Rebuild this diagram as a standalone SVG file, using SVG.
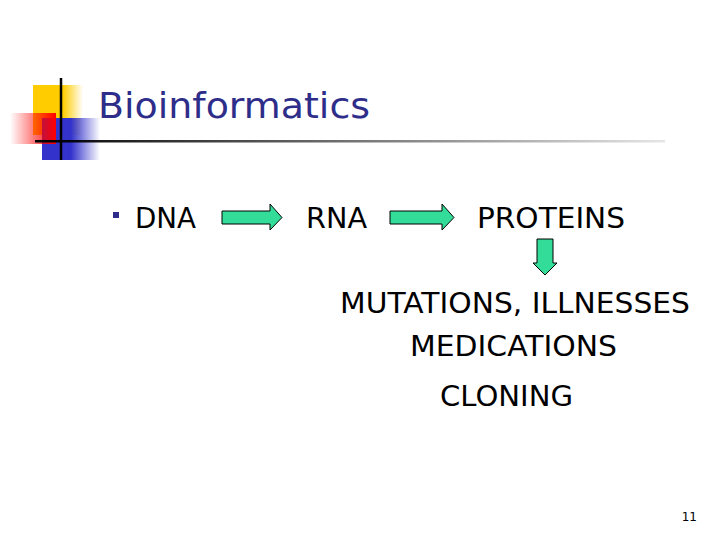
<svg xmlns="http://www.w3.org/2000/svg" width="720" height="540" viewBox="0 0 720 540">
<defs>
<linearGradient id="gy" x1="0" x2="1"><stop offset="0.6" stop-color="#ffcc00"/><stop offset="1" stop-color="#ffcc00" stop-opacity="0"/></linearGradient>
<linearGradient id="gb" x1="0" x2="1"><stop offset="0.5" stop-color="#3333cc"/><stop offset="1" stop-color="#3333cc" stop-opacity="0"/></linearGradient>
<linearGradient id="gr" x1="0" x2="1"><stop offset="0" stop-color="#ff0000" stop-opacity="0"/><stop offset="1" stop-color="#ff0000"/></linearGradient>
<linearGradient id="gl" x1="0" x2="1"><stop offset="0" stop-color="#000"/><stop offset="1" stop-color="#000" stop-opacity="0.1"/></linearGradient>
<style>
.t{font-family:"DejaVu Sans",Verdana,sans-serif;font-size:28px;fill:#000}
.a{fill:#33dd99;stroke:#000;stroke-width:1}
</style>
</defs>
<g id="logo">
<rect x="33" y="85" width="50" height="50" fill="url(#gy)"/>
<rect x="42" y="118" width="58" height="42" fill="url(#gb)"/>
<rect x="10" y="113" width="46" height="31" fill="url(#gr)"/>
<line x1="61" y1="78" x2="61" y2="160" stroke="#000" stroke-width="2.5"/>
<rect x="35" y="140" width="630" height="2.5" fill="url(#gl)"/>
</g>
<text id="title" x="98" y="118" font-family="DejaVu Sans,Verdana,sans-serif" font-size="36" fill="#2e2e8a" textLength="272" lengthAdjust="spacingAndGlyphs">Bioinformatics</text>
<rect id="bullet" x="113" y="212" width="6" height="6" fill="#2e2e8a"/>
<g id="dna"><text class="t" x="135" y="228" textLength="61" lengthAdjust="spacingAndGlyphs">DNA</text></g>
<g id="rna"><text class="t" x="306" y="228" textLength="61" lengthAdjust="spacingAndGlyphs">RNA</text></g>
<g id="proteins"><text class="t" x="477" y="228" textLength="148" lengthAdjust="spacingAndGlyphs">PROTEINS</text></g>
<g id="effects">
<text class="t" x="340" y="313" textLength="350" lengthAdjust="spacingAndGlyphs">MUTATIONS, ILLNESSES</text>
<text class="t" x="410" y="356" textLength="207" lengthAdjust="spacingAndGlyphs">MEDICATIONS</text>
<text class="t" x="440" y="406" textLength="133" lengthAdjust="spacingAndGlyphs">CLONING</text>
</g>
<g id="connectors">
<path class="a" d="M222 211H270V204L282 217.5L270 230V224H222Z"/>
<path class="a" d="M390 211H442V204L454 217.5L442 230V224H390Z"/>
<path class="a" d="M537 239H553V263H557L545 275L533 263H537Z"/>
</g>
<text x="697" y="521" font-family="DejaVu Sans,sans-serif" font-size="12" text-anchor="end">11</text>
</svg>
